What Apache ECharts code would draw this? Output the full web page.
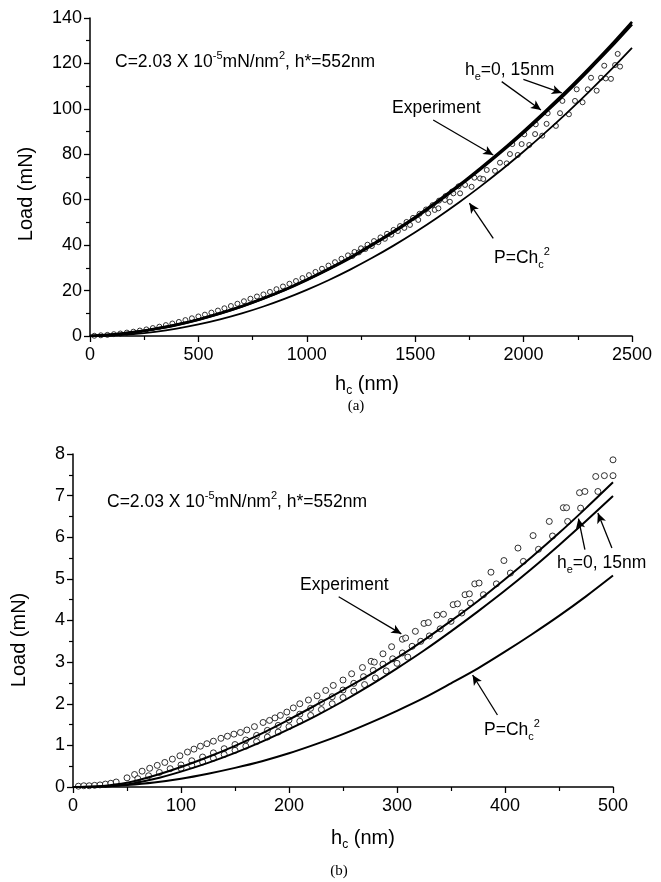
<!DOCTYPE html>
<html>
<head>
<meta charset="utf-8">
<script src="https://cdn.jsdelivr.net/npm/echarts@6/dist/echarts.min.js"></script>
<style>
  html, body { margin: 0; padding: 0; background: #fff; }
  #chart { width: 661px; height: 882px; }
</style>
</head>
<body>
<div id="chart"></div>
<script>
// ---- panel (a) ----
const hTop = [0, 100, 200, 300, 400, 500, 600, 700, 800, 900, 1000, 1100, 1200,
  1300, 1400, 1500, 1600, 1700, 1800, 1900, 2000, 2100, 2200, 2300, 2400, 2500];
const model0Top = [0, 0.6, 1.7, 3.2, 5.0, 7.3, 10.0, 13.1, 16.6, 20.5, 24.8, 29.5, 34.6,
  40.2, 46.1, 52.4, 59.2, 66.3, 73.9, 81.8, 90.2, 99.0, 108.1, 117.7, 127.7, 138.3];
const model15Top = [0, 0.5, 1.6, 3.1, 4.9, 7.2, 9.9, 13.0, 16.5, 20.3, 24.6, 29.3, 34.3,
  39.9, 45.7, 52.0, 58.7, 65.8, 73.3, 81.2, 89.5, 98.3, 107.3, 116.9, 126.8, 137.2];
const pTop = [0, 0.2, 0.81, 1.83, 3.25, 5.08, 7.31, 9.95, 12.99, 16.44, 20.3, 24.56, 29.23,
  34.31, 39.79, 45.68, 51.97, 58.67, 65.77, 73.28, 81.2, 89.52, 98.25, 107.39, 116.93, 126.88];
const expTop = [
  [20, 0.1], [50, 0.3], [80, 0.5], [110, 0.8], [140, 1.1], [170, 1.5], [200, 1.9], [230, 2.4],
  [260, 2.9], [290, 3.5], [320, 4.1], [350, 4.8], [380, 5.5], [410, 6.2], [440, 7.0], [470, 7.8],
  [500, 8.6], [530, 9.4], [560, 10.3], [590, 11.2], [620, 12.2], [650, 13.2], [680, 14.2],
  [710, 15.3], [740, 16.4], [770, 17.4], [800, 18.3], [830, 19.4], [860, 20.6], [890, 21.8],
  [920, 23.0], [950, 24.2], [980, 25.5], [1010, 26.8], [1040, 28.2], [1070, 29.6], [1100, 31.0],
  [1130, 32.5], [1160, 34.0], [1190, 35.5], [1220, 37.0], [1250, 38.6], [1280, 40.2], [1310, 41.8],
  [1340, 43.4], [1370, 45.0], [1400, 46.7], [1430, 48.4], [1460, 50.2], [1490, 52.0], [1520, 53.8],
  [1550, 55.7], [1580, 57.6], [1610, 59.6], [1640, 61.6], [1670, 63.6], [1700, 65.9],
  [1210, 35.2], [1240, 36.8], [1270, 38.3], [1300, 39.6], [1330, 41.3], [1360, 42.8], [1390, 44.6],
  [1420, 46.2], [1450, 47.6], [1476, 48.9], [1514, 51.1], [1560, 54.0], [1590, 55.5], [1607, 56.2],
  [1637, 59.9], [1660, 59.1], [1676, 62.8], [1707, 62.8], [1730, 66.5], [1760, 65.7], [1773, 69.7],
  [1799, 69.4], [1814, 69.1], [1830, 73.1], [1868, 72.7], [1891, 76.3], [1922, 76.0], [1937, 80.1],
  [1973, 79.7], [1948, 84.5], [1991, 84.5], [2026, 84.1], [2003, 88.8], [2053, 88.9], [2086, 88.2],
  [2056, 93.2], [2106, 93.4], [2149, 92.5], [2111, 98.1], [2168, 98.1], [2209, 97.6], [2179, 103.5],
  [2237, 103.5], [2272, 102.9], [2245, 108.6], [2296, 108.6], [2337, 108.0], [2311, 113.7],
  [2357, 113.7], [2379, 113.4], [2403, 113.2], [2372, 119.0], [2422, 119.3], [2445, 118.6], [2434, 124.2]
];
// arrows: [from, to] in data units
const arrowsTop = [
  [[1583, 95.1], [1860, 79.7]],
  [[1899, 112], [2080, 99.5]],
  [[1999, 113], [2176, 107]],
  [[1860, 43], [1750, 58.5]]
];

// ---- panel (b) ----
const hBot = [0, 25, 50, 75, 100, 125, 150, 175, 200, 225, 250, 275, 300, 325, 350, 375, 400, 425, 450, 475, 500];
const model0Bot = [0, 0.02, 0.1, 0.27, 0.48, 0.72, 0.99, 1.29, 1.62, 1.97, 2.33, 2.7, 3.1, 3.53, 3.99, 4.47, 4.99, 5.53, 6.1, 6.7, 7.32];
const model15Bot = [0, 0.01, 0.06, 0.19, 0.37, 0.58, 0.82, 1.09, 1.39, 1.71, 2.06, 2.44, 2.85, 3.28, 3.74, 4.22, 4.72, 5.25, 5.81, 6.39, 6.99];
const pBot = [0, 0.01, 0.05, 0.11, 0.2, 0.32, 0.46, 0.62, 0.81, 1.03, 1.27, 1.54, 1.83, 2.14, 2.49, 2.85, 3.25, 3.67, 4.11, 4.58, 5.08];
const expBot = [
  [5, 0.02], [10, 0.03], [15, 0.03], [20, 0.04], [25, 0.05], [30, 0.07], [35, 0.09],
  [40, 0.12], [50, 0.22], [57, 0.3], [64, 0.38], [71, 0.45], [78, 0.52], [85, 0.59], [92, 0.67],
  [99, 0.75], [106, 0.84], [112, 0.91], [118, 0.98], [124, 1.04], [130, 1.1], [137, 1.17],
  [143, 1.22], [149, 1.27], [155, 1.31], [161, 1.37], [168, 1.45], [176, 1.55], [182, 1.6],
  [187, 1.66], [192, 1.72], [198, 1.8], [204, 1.9], [210, 2.0], [218, 2.09], [226, 2.19],
  [234, 2.32], [241, 2.44], [250, 2.57], [258, 2.72], [268, 2.87], [276, 3.02], [279, 3.0],
  [287, 3.2], [295, 3.37], [305, 3.55], [308, 3.58], [317, 3.74], [325, 3.93], [329, 3.95],
  [337, 4.13], [343, 4.15], [352, 4.38], [356, 4.4], [363, 4.62], [367, 4.64], [372, 4.88],
  [376, 4.9], [387, 5.16], [399, 5.44], [412, 5.74], [426, 6.04], [441, 6.38], [454, 6.71],
  [457, 6.71], [469, 7.07], [474, 7.1], [484, 7.46], [492, 7.48], [500, 7.86],
  [60, 0.2], [70, 0.27], [80, 0.35], [90, 0.44], [100, 0.53], [110, 0.63], [120, 0.72],
  [130, 0.82], [140, 0.92], [150, 1.02], [160, 1.13], [170, 1.24], [180, 1.36], [190, 1.48],
  [200, 1.61], [210, 1.75], [220, 1.89], [230, 2.03], [240, 2.17], [250, 2.33], [260, 2.49],
  [269, 2.65], [278, 2.8], [287, 2.95], [296, 3.08], [305, 3.22], [314, 3.38], [322, 3.5],
  [330, 3.63], [340, 3.8], [350, 3.98], [360, 4.18], [368, 4.42], [380, 4.62], [392, 4.88],
  [405, 5.14], [417, 5.42], [431, 5.71], [444, 6.03], [458, 6.38], [470, 6.7], [486, 7.1], [500, 7.48],
  [100, 0.45], [110, 0.52], [120, 0.6], [130, 0.69], [140, 0.78], [150, 0.88], [160, 0.98],
  [170, 1.09], [180, 1.2], [190, 1.32], [200, 1.45], [210, 1.58], [220, 1.72], [230, 1.86],
  [240, 2.0], [250, 2.15], [260, 2.3], [270, 2.46], [280, 2.62], [290, 2.79], [300, 2.97], [310, 3.12]
];
const arrowsBot = [
  [[246, 4.57], [304, 3.68]],
  [[474, 5.7], [468, 6.45]],
  [[499, 5.74], [486, 6.58]],
  [[393, 1.73], [370, 2.69]]
];

const FONT = '"Liberation Sans", Arial, Helvetica, sans-serif';
const zip = (xs, ys) => xs.map((x, i) => [x, ys[i]]);

function axisX(idx, max, step) {
  return {
    type: 'value', gridIndex: idx, min: 0, max: max, interval: step,
    axisLine: { show: true, onZero: false, lineStyle: { color: '#000', width: 1.5 } },
    axisTick: { show: true, length: 6, lineStyle: { color: '#000', width: 1.3 } },
    minorTick: { show: true, splitNumber: 2, length: 4, lineStyle: { color: '#000', width: 1.2 } },
    axisLabel: { color: '#000', fontSize: 18, fontFamily: FONT, margin: 10, formatter: v => String(v) },
    splitLine: { show: false }
  };
}
function axisY(idx, max, step) {
  return {
    type: 'value', gridIndex: idx, min: 0, max: max, interval: step,
    axisLine: { show: true, onZero: false, lineStyle: { color: '#000', width: 1.5 } },
    axisTick: { show: true, length: 6, lineStyle: { color: '#000', width: 1.3 } },
    minorTick: { show: true, splitNumber: 2, length: 4, lineStyle: { color: '#000', width: 1.2 } },
    axisLabel: { color: '#000', fontSize: 18, fontFamily: FONT, margin: 8, formatter: v => String(v) },
    splitLine: { show: false }
  };
}
function curve(idx, data, width) {
  return {
    type: 'line', xAxisIndex: idx, yAxisIndex: idx, data: data, smooth: 0.3,
    showSymbol: false, symbol: 'none', silent: true,
    lineStyle: { color: '#000', width: width }
  };
}
function arrows(list) {
  return {
    silent: true, animation: false, symbol: ['none', 'arrow'], symbolSize: [7, 10],
    label: { show: false },
    lineStyle: { color: '#000', width: 1.3, type: 'solid' },
    data: list.map(a => [{ coord: a[0] }, { coord: a[1] }])
  };
}
function scatter(idx, data, size) {
  return {
    type: 'scatter', xAxisIndex: idx, yAxisIndex: idx, data: data, symbol: 'circle',
    symbolSize: size, silent: true,
    itemStyle: { color: '#fff', borderColor: '#000', borderWidth: 1 }
  };
}

const rich = {
  m: { fontSize: 17.5, fontFamily: FONT, fill: '#000', lineHeight: 24 },
  sup: { fontSize: 11, fontFamily: FONT, fill: '#000', verticalAlign: 'top' },
  sub: { fontSize: 11, fontFamily: FONT, fill: '#000', verticalAlign: 'bottom' },
  big: { fontSize: 20, fontFamily: FONT, fill: '#000', lineHeight: 26 },
  bsub: { fontSize: 12, fontFamily: FONT, fill: '#000', verticalAlign: 'bottom' }
};
function txt(x, y, text, align, extra) {
  return Object.assign({
    type: 'text', x: x, y: y, silent: true,
    style: { text: text, rich: rich, align: align || 'left', verticalAlign: 'middle', fill: '#000' }
  }, extra || {});
}
const SERIF = '"Liberation Serif", "Times New Roman", serif';

const chart = echarts.init(document.getElementById('chart'));
chart.setOption({
  backgroundColor: '#fff',
  animation: false,
  grid: [
    { left: 90, top: 18, width: 542, height: 318 },
    { left: 73, top: 454, width: 540, height: 333 }
  ],
  xAxis: [axisX(0, 2500, 500), axisX(1, 500, 100)],
  yAxis: [axisY(0, 140, 20), axisY(1, 8, 1)],
  series: [
    Object.assign(curve(0, zip(hTop, pTop), 1.8), { markLine: arrows(arrowsTop) }),
    curve(0, zip(hTop, model0Top), 2.6),
    curve(0, zip(hTop, model15Top), 2.6),
    scatter(0, expTop, 5),
    Object.assign(curve(1, zip(hBot, pBot), 2), { markLine: arrows(arrowsBot) }),
    curve(1, zip(hBot, model0Bot), 2),
    curve(1, zip(hBot, model15Bot), 2),
    scatter(1, expBot, 6)
  ],
  graphic: [
    txt(115, 62, '{m|C=2.03 X 10}{sup|-5}{m|mN/nm}{sup|2}{m|, h*=552nm}'),
    txt(465, 70, '{m|h}{sub|e}{m|=0, 15nm}'),
    txt(392, 108, '{m|Experiment}'),
    txt(494, 258, '{m|P=Ch}{sub|c}{sup|2}'),
    txt(26, 194, '{big|Load (mN)}', 'center', { rotation: Math.PI / 2 }),
    txt(367, 384, '{big|h}{bsub|c}{big| (nm)}', 'center'),
    { type: 'text', x: 356, y: 406, silent: true,
      style: { text: '(a)', fontSize: 15, fontFamily: SERIF, fill: '#000', align: 'center', verticalAlign: 'middle' } },

    txt(107, 502, '{m|C=2.03 X 10}{sup|-5}{m|mN/nm}{sup|2}{m|, h*=552nm}'),
    txt(300, 585, '{m|Experiment}'),
    txt(557, 563, '{m|h}{sub|e}{m|=0, 15nm}'),
    txt(484, 730, '{m|P=Ch}{sub|c}{sup|2}'),
    txt(19, 640, '{big|Load (mN)}', 'center', { rotation: Math.PI / 2 }),
    txt(363, 838, '{big|h}{bsub|c}{big| (nm)}', 'center'),
    { type: 'text', x: 339, y: 871, silent: true,
      style: { text: '(b)', fontSize: 15, fontFamily: SERIF, fill: '#000', align: 'center', verticalAlign: 'middle' } }
  ]
});
</script>
</body>
</html>
